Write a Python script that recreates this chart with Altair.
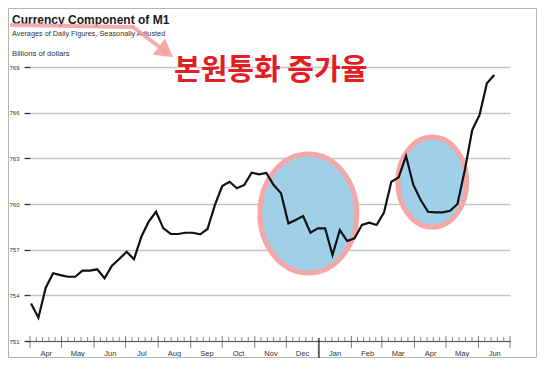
import altair as alt
import pandas as pd

# Weekly values (billions of dollars)
start_date = "2007-04-02"
values = [753.47, 752.53, 754.50, 755.45, 755.33, 755.22, 755.22, 755.62, 755.62, 755.71,
          755.12, 755.94, 756.39, 756.86, 756.37, 757.85, 758.84, 759.49, 758.40, 758.03,
          758.03, 758.11, 758.11, 758.01, 758.36, 759.93, 761.18, 761.46, 761.03, 761.25,
          762.06, 761.95, 762.04, 761.25, 760.70, 758.73, 758.95, 759.21, 758.11, 758.40,
          758.40, 756.65, 758.29, 757.57, 757.75, 758.62, 758.77, 758.62, 759.43, 761.46,
          761.75, 763.15, 761.25, 760.26, 759.49, 759.45, 759.45, 759.56, 760.00, 762.23,
          764.86, 765.85, 767.93, 768.47]
y_ticks = [751, 754, 757, 760, 763, 766, 769]

# highlighted periods (centre date, centre value)
ell_dates = ["2007-12-22", "2008-04-18"]
ell_values = [759.37, 761.44]

title_text = "Currency Component of M1"
subtitle_text = "Averages of Daily Figures, Seasonally Adjusted"
units_text = "Billions of dollars"
korean_text = "본원통화 증가율"

df = pd.DataFrame({"date": pd.date_range(start_date, periods=len(values), freq="7D"),
                   "value": values})

month_starts = pd.date_range("2007-04-01", "2008-07-01", freq="MS")
minor = []
for a, b in zip(month_starts[:-1], month_starts[1:]):
    for k in range(1, 5):
        minor.append(a + (b - a) * k / 5)
minor_df = pd.DataFrame({"date": minor})
major_df = pd.DataFrame({"date": [d for d in month_starts if not (d.month == 1)]})
jan_df = pd.DataFrame({"date": [d for d in month_starts if d.month == 1]})
mid_vals = [alt.DateTime(year=int(d.year), month=int(d.month), date=16) for d in month_starts[:-1]]

xs = alt.Scale(domain=[alt.DateTime(year=2007, month=4, date=1),
                       alt.DateTime(year=2008, month=7, date=1)])
ys = alt.Scale(domain=[751, 769], nice=False, zero=False)

xaxis = alt.Axis(values=mid_vals, format="%b", ticks=False, grid=False, domain=True,
                 domainColor="#555", domainWidth=1, labelFont="Liberation Sans",
                 labelFontSize=7.5, labelColor="#333", labelPadding=8, title=None)
yaxis = alt.Axis(values=y_ticks, grid=True, gridColor="#c6c6c6", gridWidth=1.5,
                 domain=False, tickSize=6, tickColor="#333", tickWidth=1.3,
                 labelFont="Liberation Sans", labelFontSize=6, labelColor="#333",
                 labelPadding=5, title=None)

X = lambda: alt.X("date:T", scale=xs, axis=xaxis)
Y = lambda: alt.Y("value:Q", scale=ys, axis=yaxis)

line = alt.Chart(df).mark_line(color="#111111", strokeWidth=2.2).encode(x=X(), y=Y())

def ellipse(i, ratio, diam):
    path = f"M {-ratio} 0 A {ratio} 1 0 1 1 {ratio} 0 A {ratio} 1 0 1 1 {-ratio} 0 Z"
    d = pd.DataFrame({"date": [pd.Timestamp(ell_dates[i])], "value": [ell_values[i]]})
    return alt.Chart(d).mark_point(shape=path, size=diam * diam, filled=True,
                                   fill="#9fd0e7", stroke="#f5a6a6", strokeWidth=5,
                                   opacity=1).encode(x=X(), y=Y())

ell1 = ellipse(0, 0.815, 119)
ell2 = ellipse(1, 0.767, 90)

minor_t = alt.Chart(minor_df).mark_tick(color="#555", thickness=1, size=4).encode(
    x=X(), y=alt.value(272))
major_t = alt.Chart(major_df).mark_tick(color="#444", thickness=1, size=12).encode(
    x=X(), y=alt.value(275))
jan_t = alt.Chart(jan_df).mark_tick(color="#222", thickness=2, size=20).encode(
    x=X(), y=alt.value(281))

def label(txt, x, y, **kw):
    return alt.Chart(pd.DataFrame({"t": [txt]})).mark_text(align="left", baseline="alphabetic", **kw).encode(
        text="t:N", x=alt.value(x), y=alt.value(y))

title = label(title_text, -18, -43, font="Liberation Sans",
              fontWeight="bold", fontSize=12, color="#1a1a1a")
subtitle = label(subtitle_text, -18, -31.5, font="Liberation Sans", fontSize=7.3, color="#333")
units = label(units_text, -18, -11.5, font="Liberation Sans", fontSize=7.7, color="#333")
korean = label(korean_text, 144, 13, font="Noto Sans CJK KR", fontWeight="bold",
               fontSize=29, color="#e31e24")

one = pd.DataFrame({"k": [0]})
pink = "#f4a0a0"
arrow1 = alt.Chart(one).mark_rule(color=pink, strokeWidth=4, opacity=0.85, strokeCap="round").encode(
    x=alt.value(-18), x2=alt.value(103), y=alt.value(-42), y2=alt.value(-40))
arrow2 = alt.Chart(one).mark_rule(color=pink, strokeWidth=4, opacity=0.85, strokeCap="round").encode(
    x=alt.value(103), x2=alt.value(136), y=alt.value(-40), y2=alt.value(-15))
head = alt.Chart(one).mark_point(shape="triangle-up", filled=True, color=pink, opacity=0.9,
                                 size=420, angle=127).encode(x=alt.value(136), y=alt.value(-15))

border = alt.Chart(one).mark_rect(fillOpacity=0, stroke="#b5b5b5", strokeWidth=1).encode(
    x=alt.value(-21.5), x2=alt.value(506.5), y=alt.value(-58.5), y2=alt.value(290.5))

chart = alt.layer(border, ell1, ell2, line, minor_t, major_t, jan_t, title, subtitle,
                  units, korean, arrow1, arrow2, head).properties(
    width=480, height=274,
    autosize=alt.AutoSizeParams(type="none"),
    padding={"left": 22, "top": 59, "right": 27, "bottom": 17},
).configure_view(stroke=None)

chart.save("out.html", embed_options={"renderer": "svg", "actions": False})
